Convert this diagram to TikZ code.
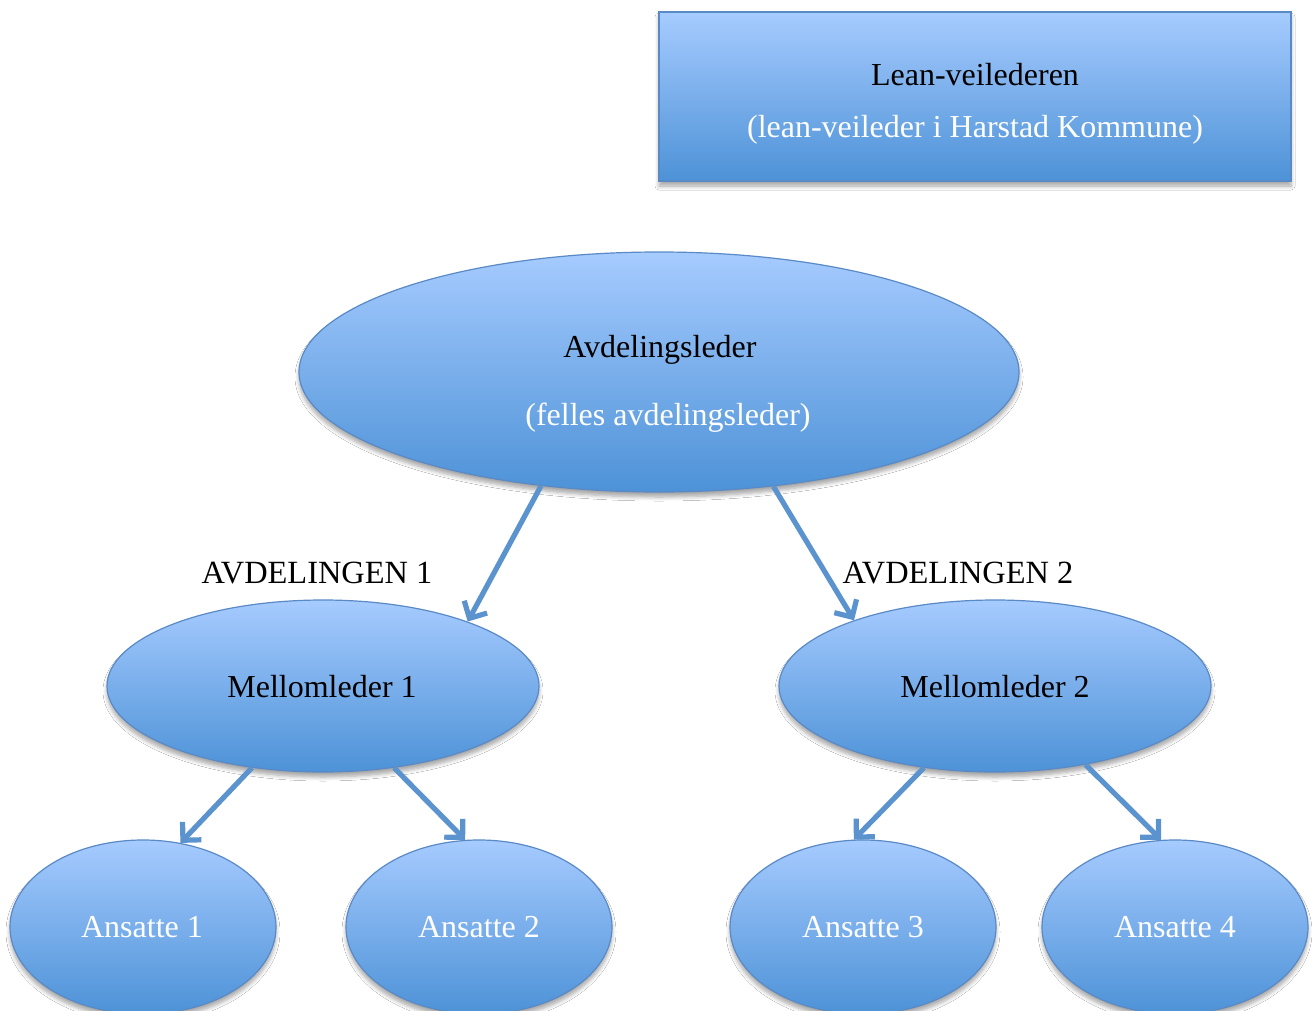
\documentclass[tikz,border=0pt]{standalone}
\usepackage{fontspec}
\setmainfont{Liberation Serif}
\usetikzlibrary{shapes.geometric,arrows.meta,shadows.blur}
\definecolor{topc}{HTML}{A6CBFF}
\definecolor{botc}{HTML}{4D92D7}
\definecolor{edgec}{HTML}{5A8AC6}
\definecolor{arrc}{HTML}{5B93CF}
\tikzset{
  boxshape/.style={draw=edgec, line width=0.6pt, top color=topc, bottom color=botc,
    blur shadow={shadow xshift=0pt, shadow yshift=-2.5pt, shadow blur radius=2pt, shadow blur steps=6, shadow opacity=35}},
  ell/.style={boxshape, ellipse, inner sep=0pt},
  txt/.style={font=\fontsize{16}{19}\selectfont, inner sep=0pt},
  blk/.style={txt, text=black},
  wht/.style={txt, text=white},
  conn/.style={draw=arrc, line width=2.6pt, -{Straight Barb[length=6.5pt,width=13pt]}}
}
\begin{document}
\begin{tikzpicture}[x=0.5pt,y=-0.5pt]
\useasboundingbox (0,0) rectangle (1312,1011);
\clip (0,0) rectangle (1312,1011);
\fill[white] (0,0) rectangle (1312,1011);
% shapes
\node[boxshape, rectangle, minimum width=316pt, minimum height=84.5pt, inner sep=0pt] (lean) at (975,96.5) {};
\node[ell, minimum width=360pt, minimum height=120pt] (avd) at (659,372) {};
\node[ell, minimum width=216pt, minimum height=86pt] (m1) at (323,686) {};
\node[ell, minimum width=216pt, minimum height=86pt] (m2) at (995,686) {};
\node[ell, minimum width=133pt, minimum height=87pt] (a1) at (143,927) {};
\node[ell, minimum width=133pt, minimum height=87pt] (a2) at (479,927) {};
\node[ell, minimum width=133pt, minimum height=87pt] (a3) at (863,927) {};
\node[ell, minimum width=133pt, minimum height=87pt] (a4) at (1175,927) {};
% texts
\node[blk] (leant) at (975,75) {Lean-veilederen};
\node[wht] (leans) at (975,130) {(lean-veileder i Harstad Kommune)};
\node[blk] (avdt) at (660,350) {Avdelingsleder};
\node[wht] (avds) at (668,418) {(felles avdelingsleder)};
\node[blk] (m1t) at (322,687) {Mellomleder 1};
\node[blk] (m2t) at (995,687) {Mellomleder 2};
\node[wht] (a1t) at (142,927) {Ansatte 1};
\node[wht] (a2t) at (479,927) {Ansatte 2};
\node[wht] (a3t) at (863,927) {Ansatte 3};
\node[wht] (a4t) at (1175,927) {Ansatte 4};
\node[blk, font=\fontsize{16.2}{19}\selectfont] (lab1) at (317,573) {AVDELINGEN 1};
\node[blk, font=\fontsize{16.2}{19}\selectfont] (lab2) at (958,573) {AVDELINGEN 2};
% connectors
\draw[conn] (avd.224.5) -- (m1.24.5);
\draw[conn] (avd.315.5) -- (m2.155.5);
\draw[conn] (m1.229) -- (a1.66);
\draw[conn] (m1.311) -- (a2.99);
\draw[conn] (m2.229) -- (a3.96);
\draw[conn] (m2.319) -- (a4.99);
\end{tikzpicture}
\end{document}
